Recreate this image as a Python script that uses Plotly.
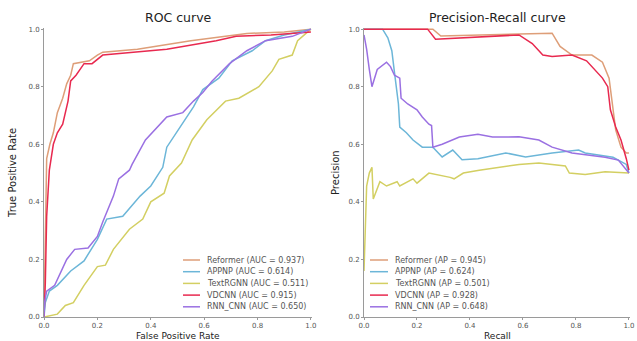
import plotly.graph_objects as go

models = ["Reformer", "APPNP", "TextRGNN", "VDCNN", "RNN_CNN"]
auc_values = ["0.937", "0.614", "0.511", "0.915", "0.650"]
ap_values = ["0.945", "0.624", "0.501", "0.928", "0.648"]
colors = ["#de9e78", "#6cb6d8", "#d3cf62", "#e8294f", "#9a70e2"]

# ROC curves (FPR, TPR)
roc_fpr_reformer = [0, 0.005, 0.01, 0.022, 0.035, 0.05, 0.07, 0.085, 0.1, 0.11, 0.14, 0.17, 0.2, 0.22, 0.35, 0.49, 0.55, 0.68, 0.76, 0.9, 1.0]
roc_tpr_reformer = [0, 0.35, 0.55, 0.60, 0.64, 0.71, 0.76, 0.81, 0.84, 0.88, 0.885, 0.89, 0.91, 0.92, 0.93, 0.95, 0.96, 0.975, 0.985, 0.99, 1.0]

roc_fpr_appnp = [0, 0.005, 0.02, 0.05, 0.1, 0.15, 0.2, 0.235, 0.295, 0.36, 0.40, 0.44, 0.445, 0.46, 0.51, 0.56, 0.595, 0.655, 0.705, 0.78, 0.83, 0.9, 1.0]
roc_tpr_appnp = [0, 0.05, 0.09, 0.11, 0.16, 0.195, 0.27, 0.34, 0.35, 0.42, 0.455, 0.51, 0.52, 0.59, 0.66, 0.73, 0.79, 0.83, 0.89, 0.925, 0.96, 0.98, 1.0]

roc_fpr_textrgnn = [0, 0.05, 0.08, 0.11, 0.15, 0.2, 0.23, 0.26, 0.32, 0.37, 0.40, 0.45, 0.47, 0.515, 0.555, 0.61, 0.68, 0.73, 0.805, 0.855, 0.88, 0.93, 0.95, 1.0]
roc_tpr_textrgnn = [0, 0.01, 0.04, 0.05, 0.11, 0.175, 0.18, 0.235, 0.305, 0.34, 0.40, 0.43, 0.49, 0.535, 0.615, 0.685, 0.75, 0.76, 0.80, 0.855, 0.895, 0.91, 0.96, 1.0]

roc_fpr_vdcnn = [0, 0.005, 0.01, 0.02, 0.035, 0.05, 0.07, 0.09, 0.1, 0.12, 0.15, 0.18, 0.22, 0.46, 0.645, 0.72, 0.85, 1.0]
roc_tpr_vdcnn = [0, 0.12, 0.35, 0.51, 0.60, 0.64, 0.67, 0.75, 0.82, 0.84, 0.88, 0.88, 0.91, 0.93, 0.96, 0.975, 0.98, 0.99]

roc_fpr_rnncnn = [0, 0.002, 0.01, 0.04, 0.085, 0.115, 0.165, 0.2, 0.22, 0.26, 0.28, 0.32, 0.33, 0.38, 0.46, 0.52, 0.56, 0.595, 0.63, 0.695, 0.76, 0.83, 0.93, 1.0]
roc_tpr_rnncnn = [0, 0.05, 0.09, 0.11, 0.20, 0.235, 0.24, 0.28, 0.33, 0.42, 0.48, 0.51, 0.53, 0.615, 0.695, 0.71, 0.75, 0.78, 0.82, 0.88, 0.925, 0.96, 0.975, 1.0]

# Precision-Recall curves (Recall, Precision)
pr_rec_reformer = [0, 0.26, 0.29, 0.5, 0.71, 0.74, 0.785, 0.86, 0.9, 0.925, 0.935, 0.95, 0.97, 0.99, 1.0]
pr_prec_reformer = [1.0, 1.0, 0.976, 0.98, 0.986, 0.94, 0.91, 0.91, 0.885, 0.83, 0.75, 0.65, 0.59, 0.57, 0.57]

pr_rec_appnp = [0, 0.07, 0.09, 0.105, 0.115, 0.13, 0.135, 0.16, 0.185, 0.22, 0.26, 0.295, 0.335, 0.37, 0.43, 0.535, 0.61, 0.71, 0.81, 0.835, 0.94, 0.99, 1.0]
pr_prec_appnp = [1.0, 1.0, 0.97, 0.925, 0.85, 0.74, 0.66, 0.64, 0.615, 0.59, 0.59, 0.556, 0.58, 0.546, 0.55, 0.57, 0.556, 0.57, 0.58, 0.57, 0.555, 0.53, 0.50]

pr_rec_textrgnn = [0, 0.01, 0.02, 0.03, 0.035, 0.06, 0.085, 0.125, 0.135, 0.185, 0.2, 0.245, 0.325, 0.34, 0.375, 0.435, 0.585, 0.66, 0.76, 0.775, 0.835, 0.91, 1.0]
pr_prec_textrgnn = [0.16, 0.455, 0.50, 0.52, 0.41, 0.47, 0.455, 0.47, 0.455, 0.48, 0.465, 0.50, 0.485, 0.48, 0.50, 0.51, 0.53, 0.535, 0.525, 0.50, 0.495, 0.505, 0.50]

pr_rec_vdcnn = [0, 0.24, 0.27, 0.585, 0.635, 0.675, 0.71, 0.785, 0.84, 0.9, 0.92, 0.93, 0.95, 0.97, 0.99, 1.0]
pr_prec_vdcnn = [1.0, 1.0, 0.965, 0.98, 0.95, 0.91, 0.905, 0.91, 0.89, 0.83, 0.80, 0.72, 0.66, 0.615, 0.55, 0.51]

pr_rec_rnncnn = [0, 0.01, 0.02, 0.03, 0.05, 0.085, 0.1, 0.115, 0.135, 0.14, 0.165, 0.2, 0.22, 0.245, 0.255, 0.26, 0.295, 0.36, 0.43, 0.485, 0.585, 0.66, 0.71, 0.785, 0.91, 0.96, 1.0]
pr_prec_rnncnn = [0.98, 0.93, 0.86, 0.80, 0.86, 0.885, 0.87, 0.84, 0.83, 0.76, 0.74, 0.72, 0.695, 0.67, 0.665, 0.59, 0.60, 0.625, 0.635, 0.625, 0.626, 0.615, 0.59, 0.57, 0.555, 0.545, 0.50]

roc_data = [
    (roc_fpr_reformer, roc_tpr_reformer),
    (roc_fpr_appnp, roc_tpr_appnp),
    (roc_fpr_textrgnn, roc_tpr_textrgnn),
    (roc_fpr_vdcnn, roc_tpr_vdcnn),
    (roc_fpr_rnncnn, roc_tpr_rnncnn),
]
pr_data = [
    (pr_rec_reformer, pr_prec_reformer),
    (pr_rec_appnp, pr_prec_appnp),
    (pr_rec_textrgnn, pr_prec_textrgnn),
    (pr_rec_vdcnn, pr_prec_vdcnn),
    (pr_rec_rnncnn, pr_prec_rnncnn),
]

W, H = 637, 341
font_family = "DejaVu Sans"

fig = go.Figure()
for i, (x, y) in enumerate(roc_data):
    fig.add_trace(go.Scatter(x=x, y=y, mode="lines", line=dict(color=colors[i], width=1.5),
                             name=f"{models[i]} (AUC = {auc_values[i]})", showlegend=False,
                             xaxis="x", yaxis="y"))
for i, (x, y) in enumerate(pr_data):
    fig.add_trace(go.Scatter(x=x, y=y, mode="lines", line=dict(color=colors[i], width=1.5),
                             name=f"{models[i]} (AP = {ap_values[i]})", showlegend=False,
                             xaxis="x2", yaxis="y2"))

def px_x(p):
    return p / W

def px_y(p):
    return (H - p) / H

ax_common = dict(range=[0, 1.004], showgrid=False, zeroline=False, showline=True,
                 linecolor="#9a9a9a", linewidth=1, ticks="outside", ticklen=2,
                 tickcolor="#9a9a9a", tickfont=dict(size=7, color="#555", family=font_family),
                 tickvals=[0, 0.2, 0.4, 0.6, 0.8, 1.0],
                 ticktext=["0.0", "0.2", "0.4", "0.6", "0.8", "1.0"], automargin=False)

fig.update_layout(
    width=W, height=H, margin=dict(l=0, r=0, t=0, b=0),
    paper_bgcolor="white", plot_bgcolor="white",
    font=dict(family=font_family),
    xaxis=dict(domain=[px_x(44), px_x(312)], anchor="y", **ax_common),
    yaxis=dict(domain=[px_y(317), px_y(28)], anchor="x", **ax_common),
    xaxis2=dict(domain=[px_x(364), px_x(630)], anchor="y2", **ax_common),
    yaxis2=dict(domain=[px_y(317), px_y(28)], anchor="x2", **ax_common),
)

annotations = [
    dict(text="ROC curve", x=px_x(178), y=px_y(18), font=dict(size=12.5, color="#222")),
    dict(text="Precision-Recall curve", x=px_x(497), y=px_y(18), font=dict(size=12.5, color="#222")),
    dict(text="False Positive Rate", x=px_x(178), y=px_y(335.5), font=dict(size=9, color="#222")),
    dict(text="Recall", x=px_x(497), y=px_y(335.5), font=dict(size=9, color="#222")),
    dict(text="True Positive Rate", x=px_x(12), y=px_y(173), font=dict(size=10, color="#222"), textangle=-90),
    dict(text="Precision", x=px_x(335), y=px_y(173), font=dict(size=10, color="#222"), textangle=-90),
]
for a in annotations:
    a.update(xref="paper", yref="paper", showarrow=False, xanchor="center", yanchor="middle")
    a["font"]["family"] = font_family

shapes = []
legend_specs = [
    (183, 200, 205, auc_values, "AUC"),
    (370, 388, 393, ap_values, "AP"),
]
for x0, x1, tx, vals, lab in legend_specs:
    for i in range(len(models)):
        yy = 260 + i * 11.7
        shapes.append(dict(type="line", xref="paper", yref="paper",
                           x0=px_x(x0), x1=px_x(x1), y0=px_y(yy), y1=px_y(yy),
                           line=dict(color=colors[i], width=1.5)))
        annotations.append(dict(text=f"{models[i]} ({lab} = {vals[i]})", xref="paper", yref="paper",
                                x=px_x(tx), y=px_y(yy), xanchor="left", yanchor="middle",
                                showarrow=False, font=dict(size=8, color="#555", family=font_family)))

fig.update_layout(annotations=annotations, shapes=shapes)
fig.write_html("out.html")
